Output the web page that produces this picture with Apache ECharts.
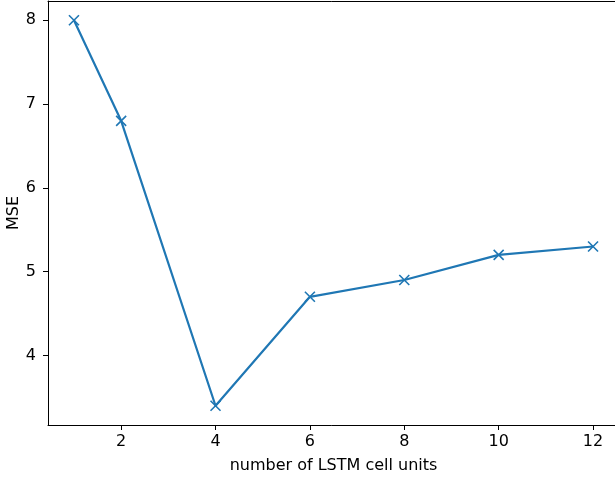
<!DOCTYPE html>
<html>
<head>
<meta charset="utf-8">
<script src="https://cdn.jsdelivr.net/npm/echarts@6/dist/echarts.min.js"></script>
<style>
  html, body { margin: 0; padding: 0; background: #fff; }
  #chart { width: 615px; height: 478px; }
</style>
</head>
<body>
<div id="chart"></div>
<script>
// LSTM cell units vs MSE
var units = [1, 2, 4, 6, 8, 10, 12];
var mse = [8.0, 6.8, 3.4, 4.7, 4.9, 5.2, 5.3];
var xTicks = [2, 4, 6, 8, 10, 12];
var yTicks = [4, 5, 6, 7, 8];

var points = units.map(function (u, i) {
  return [u, mse[i]];
});

var myChart = echarts.init(document.getElementById('chart'));

var font = 'DejaVu Sans';
var axisColor = '#000';
var fs = 16;

var option = {
  animation: false,
  grid: {
    left: 48,
    top: 1,
    right: -4,
    bottom: 53,
    containLabel: false,
    outerBoundsMode: 'none'
  },
  xAxis: [{
    type: 'value',
    min: 0.45,
    max: 12.55,
    name: 'number of LSTM cell units',
    nameLocation: 'middle',
    nameGap: 33,
    nameMoveOverlap: false,
    nameTextStyle: { fontFamily: font, fontSize: fs, color: axisColor },
    axisLine: { show: true, onZero: false, lineStyle: { color: axisColor, width: 1 } },
    axisTick: { show: true, customValues: xTicks, length: 5, lineStyle: { color: axisColor } },
    axisLabel: { customValues: xTicks, margin: 9, fontFamily: font, fontSize: fs, color: axisColor },
    splitLine: { show: false }
  }, {
    // top spine only
    type: 'value',
    position: 'top',
    min: 0.45,
    max: 12.55,
    axisLine: { show: true, onZero: false, lineStyle: { color: axisColor, width: 1 } },
    axisTick: { show: false },
    axisLabel: { show: false },
    splitLine: { show: false }
  }],
  yAxis: {
    type: 'value',
    min: 3.17,
    max: 8.23,
    name: 'MSE',
    nameLocation: 'middle',
    nameGap: 26,
    nameMoveOverlap: false,
    nameTextStyle: { fontFamily: font, fontSize: fs, color: axisColor },
    axisLine: { show: true, onZero: false, lineStyle: { color: axisColor, width: 1 } },
    axisTick: { show: true, customValues: yTicks, length: 5, lineStyle: { color: axisColor } },
    axisLabel: { customValues: yTicks, margin: 12, fontFamily: font, fontSize: fs, color: axisColor },
    splitLine: { show: false }
  },
  series: [{
    type: 'line',
    data: points,
    symbol: 'path://M0,0L10,10M10,0L0,10',
    symbolSize: 10,
    showAllSymbol: true,
    lineStyle: { color: '#1f77b4', width: 2.2 },
    itemStyle: { color: 'none', borderColor: '#1f77b4', borderWidth: 1.6 }
  }]
};

myChart.setOption(option);
</script>
</body>
</html>
